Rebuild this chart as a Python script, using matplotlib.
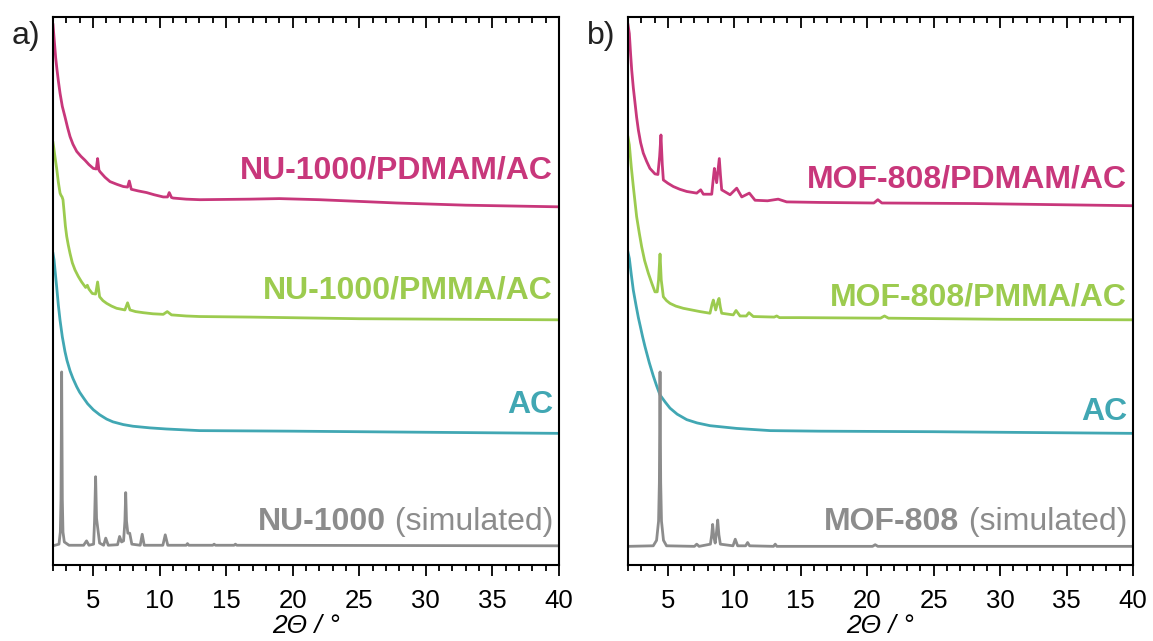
import matplotlib
matplotlib.use("Agg")
import matplotlib.pyplot as plt
from matplotlib.ticker import MultipleLocator

plt.rcParams['font.family'] = ['Liberation Sans', 'DejaVu Sans']

MAGENTA = '#C8377B'
GREEN = '#9CCB4F'
TEAL = '#41A7B3'
GRAY = '#8C8C8C'

# ---------------- panel a (NU-1000) ----------------
a_pdmam_x = [2.0, 2.1, 2.2, 2.3, 2.4, 2.53, 2.7, 2.9, 3.1, 3.28, 3.5, 3.78, 4.1, 4.4, 4.7, 5.03, 5.25,
             5.35, 5.45, 5.53, 5.9, 6.28, 6.8, 7.28, 7.6, 7.73, 7.88, 8.4, 9.03, 9.6, 10.28, 10.6,
             10.73, 10.9, 11.03, 12.0, 13.04, 16.8, 19.0, 22.0, 27.8, 33.0, 40.0]
a_pdmam_y = [98.5, 95.5, 92.5, 90.3, 88.3, 86.0, 83.6, 81.7, 79.7, 78.1, 76.7, 75.4, 74.5, 73.8, 73.0,
             72.3, 72.2, 74.1, 72.0, 71.7, 70.7, 69.9, 69.4, 69.0, 68.9, 70.0, 68.5, 68.2, 67.9,
             67.5, 67.1, 67.1, 67.9, 67.0, 66.9, 66.7, 66.6, 66.7, 66.8, 66.6, 66.0, 65.6, 65.3]

a_pmma_x = [2.0, 2.05, 2.15, 2.28, 2.4, 2.53, 2.6, 2.68, 2.75, 2.83, 2.93, 3.03, 3.15, 3.28, 3.45,
            3.65, 3.9, 4.15, 4.45, 4.58, 4.7, 4.95, 5.2, 5.35, 5.5, 5.75, 6.03, 6.4, 6.78, 7.4, 7.6,
            7.78, 8.2, 8.78, 9.5, 10.28, 10.58, 10.9, 12.0, 13.0, 16.8, 25.0, 40.0]
a_pmma_y = [77.0, 76.2, 74.4, 72.2, 69.8, 67.8, 67.4, 67.1, 66.6, 64.5, 61.8, 59.9, 58.3, 56.8, 55.1,
            53.8, 52.6, 51.6, 50.6, 51.0, 50.3, 49.5, 49.4, 51.6, 48.9, 48.2, 47.7, 47.2, 46.8,
            46.5, 47.8, 46.5, 46.2, 46.0, 45.8, 45.7, 46.2, 45.6, 45.4, 45.3, 45.2, 44.9, 44.7]

a_ac_x = [2.0, 2.08, 2.15, 2.28, 2.4, 2.53, 2.7, 2.9, 3.05, 3.28, 3.5, 3.78, 4.0, 4.28, 4.6, 5.03,
          5.5, 6.03, 6.5, 7.28, 8.0, 9.28, 10.5, 13.0, 20.0, 30.0, 40.0]
a_ac_y = [56.8, 55.6, 53.8, 50.6, 47.4, 44.6, 41.6, 38.9, 37.3, 35.4, 34.0, 32.5, 31.5, 30.5, 29.4,
          28.3, 27.4, 26.6, 26.1, 25.6, 25.3, 25.0, 24.8, 24.5, 24.4, 24.2, 24.0]

a_sim_x = [2.0, 2.45, 2.55, 2.60, 2.65, 2.70, 2.75, 2.85, 3.2, 4.3, 4.52, 4.7, 5.05, 5.12, 5.2,
           5.27, 5.36, 5.5, 5.8, 5.96, 6.15, 6.85, 7.0, 7.15, 7.3, 7.4, 7.46, 7.52, 7.62, 7.76,
           7.92, 8.55, 8.7, 8.85, 10.25, 10.43, 10.62, 12.0, 12.1, 12.2, 14.0, 14.1, 14.2,
           15.6, 15.7, 15.8, 40.0]
a_sim_y = [3.5, 3.8, 6.0, 12.0, 35.2, 12.0, 6.0, 4.2, 3.6, 3.6, 4.4, 3.6, 3.8, 8.0, 16.1,
           8.5, 6.7, 4.0, 3.6, 4.9, 3.6, 3.7, 5.2, 4.2, 4.4, 8.0, 13.2, 8.0, 5.8, 5.8,
           3.8, 3.6, 5.6, 3.6, 3.6, 5.5, 3.6, 3.6, 3.9, 3.6, 3.6, 3.8, 3.6,
           3.6, 3.8, 3.6, 3.5]

# ---------------- panel b (MOF-808) ----------------
b_pdmam_x = [2.0, 2.1, 2.2, 2.28, 2.4, 2.53, 2.65, 2.78, 2.95, 3.15, 3.4, 3.65, 4.03, 4.25, 4.38,
             4.48, 4.58, 4.66, 5.0, 5.41, 5.9, 6.42, 7.17, 7.47, 7.67, 8.3, 8.42, 8.5, 8.67, 8.87,
             8.96, 9.05, 9.68, 10.18, 10.56, 11.13, 11.56, 12.5, 13.3, 13.94, 16.45, 20.5, 20.8,
             21.1, 28.0, 40.0]
b_pdmam_y = [98.5, 96.9, 93.0, 90.2, 87.0, 84.2, 81.6, 79.3, 77.0, 75.1, 73.6, 72.3, 71.3, 71.2, 74.5,
             78.4, 73.0, 70.2, 69.6, 69.0, 68.5, 68.1, 67.8, 68.4, 67.6, 67.6, 70.5, 72.3, 69.7, 74.1,
             71.0, 68.4, 67.5, 68.7, 67.1, 67.8, 66.5, 66.4, 66.7, 66.2, 66.1, 66.0, 66.6,
             66.0, 65.9, 65.5]

b_pmma_x = [2.0, 2.1, 2.25, 2.4, 2.65, 2.85, 3.03, 3.25, 3.53, 3.8, 4.03, 4.2, 4.3, 4.41, 4.5, 4.66,
            4.9, 5.16, 5.6, 6.16, 7.42, 8.17, 8.32, 8.42, 8.6, 8.78, 8.85, 8.95, 9.05, 9.92, 10.13,
            10.43, 10.9, 11.1, 11.43, 13.0, 13.19, 13.4, 14.94, 21.0, 21.3, 21.6, 30.0, 40.0]
b_pmma_y = [78.0, 76.6, 72.5, 69.0, 63.5, 60.5, 58.0, 55.5, 53.2, 51.3, 49.8, 49.8, 52.0, 56.7, 52.0,
            48.9, 48.2, 47.7, 47.2, 46.8, 46.2, 45.9, 47.5, 48.3, 46.5, 48.2, 48.6, 47.0, 45.9,
            45.6, 46.4, 45.4, 45.4, 46.0, 45.3, 45.2, 45.4, 45.1, 45.1, 45.0, 45.4, 45.0, 44.8, 44.7]

b_ac_x = [2.0, 2.1, 2.25, 2.4, 2.6, 2.78, 2.9, 3.1, 3.28, 3.6, 3.9, 4.15, 4.41, 4.8, 5.16, 5.7,
          6.42, 7.2, 8.17, 10.18, 12.7, 16.4, 25.0, 40.0]
b_ac_y = [57.0, 55.9, 52.9, 50.1, 47.4, 45.1, 43.8, 41.6, 39.8, 36.9, 34.5, 32.7, 31.0, 29.7, 28.6,
          27.5, 26.5, 25.9, 25.4, 24.9, 24.5, 24.4, 24.3, 24.0]

b_sim_x = [2.0, 3.9, 4.15, 4.3, 4.36, 4.41, 4.46, 4.52, 4.67, 4.9, 7.0, 7.17, 7.35, 8.2, 8.3,
           8.37, 8.45, 8.56, 8.66, 8.75, 8.84, 8.95, 9.9, 10.07, 10.25, 10.85, 11.0, 11.15,
           12.95, 13.08, 13.2, 20.4, 20.6, 20.8, 40.0]
b_sim_y = [3.4, 3.5, 4.5, 8.0, 15.0, 35.2, 15.0, 8.0, 4.5, 3.5, 3.4, 3.8, 3.4, 3.8, 5.5,
           7.4, 5.2, 4.0, 6.0, 8.2, 5.5, 3.8, 3.5, 4.7, 3.5, 3.5, 4.1, 3.5,
           3.4, 3.8, 3.4, 3.4, 3.7, 3.4, 3.4]

a_labels = ['NU-1000/PDMAM/AC', 'NU-1000/PMMA/AC', 'AC', 'NU-1000']
b_labels = ['MOF-808/PDMAM/AC', 'MOF-808/PMMA/AC', 'AC', 'MOF-808']
a_label_y = [72.0, 50.1, 29.2, 7.8]
b_label_y = [70.2, 48.7, 27.9, 7.8]
xticks = [5, 10, 15, 20, 25, 30, 35, 40]

fig = plt.figure(figsize=(11.53, 6.41), dpi=100)
W, H = 1153.0, 641.0
ax_a = fig.add_axes([53 / W, (641 - 565) / H, 506 / W, 548.5 / H])
ax_b = fig.add_axes([628 / W, (641 - 565) / H, 505 / W, 548.5 / H])

panels = [
    (ax_a, [(a_pdmam_x, a_pdmam_y, MAGENTA), (a_pmma_x, a_pmma_y, GREEN),
            (a_ac_x, a_ac_y, TEAL), (a_sim_x, a_sim_y, GRAY)], a_labels, a_label_y, 'a)'),
    (ax_b, [(b_pdmam_x, b_pdmam_y, MAGENTA), (b_pmma_x, b_pmma_y, GREEN),
            (b_ac_x, b_ac_y, TEAL), (b_sim_x, b_sim_y, GRAY)], b_labels, b_label_y, 'b)'),
]

colors = [MAGENTA, GREEN, TEAL, GRAY]
fig.canvas.draw()

for ax, curves, labels, label_y, tag in panels:
    for xs, ys, c in curves:
        ax.plot(xs, ys, color=c, lw=2.0, solid_joinstyle='round')
    ax.set_xlim(2, 40)
    ax.set_ylim(0, 100)
    ax.set_yticks([])
    ax.set_xticks(xticks)
    ax.xaxis.set_minor_locator(MultipleLocator(1))
    ax.tick_params(axis='x', which='both', top=True, bottom=True, labelsize=18.5, pad=9, width=1.3)
    ax.tick_params(axis='x', which='major', length=8)
    ax.tick_params(axis='x', which='minor', length=4)
    for s in ax.spines.values():
        s.set_linewidth(1.5)
    for tl in ax.xaxis.get_major_ticks() + ax.xaxis.get_minor_ticks():
        tl.tick2line.set_marker(matplotlib.lines.TICKDOWN)
    ax.set_xlabel('2Θ / °', fontsize=19, style='italic', labelpad=1)
    xr = 0.988
    for lab, ly, c in zip(labels[:3], label_y[:3], colors[:3]):
        ax.text(xr, ly, lab, transform=ax.get_yaxis_transform(), ha='right', va='center',
                fontsize=23, fontweight='bold', color=c)
    t2 = ax.text(xr, label_y[3], ' (simulated)', transform=ax.get_yaxis_transform(),
                 ha='right', va='center', fontsize=23, color=GRAY)
    fig.canvas.draw()
    bb = t2.get_window_extent(renderer=fig.canvas.get_renderer())
    x0_axes = ax.transAxes.inverted().transform((bb.x0, bb.y0))[0]
    ax.text(x0_axes, label_y[3], labels[3], transform=ax.get_yaxis_transform(), ha='right',
            va='center', fontsize=23, fontweight='bold', color=GRAY)
    pos = ax.get_position()
    fig.text(pos.x0 - 41 / W, 1 - 36 / H, tag, fontsize=23, ha='left', va='center', color='#222222')

fig.savefig('out.png', dpi=100)
